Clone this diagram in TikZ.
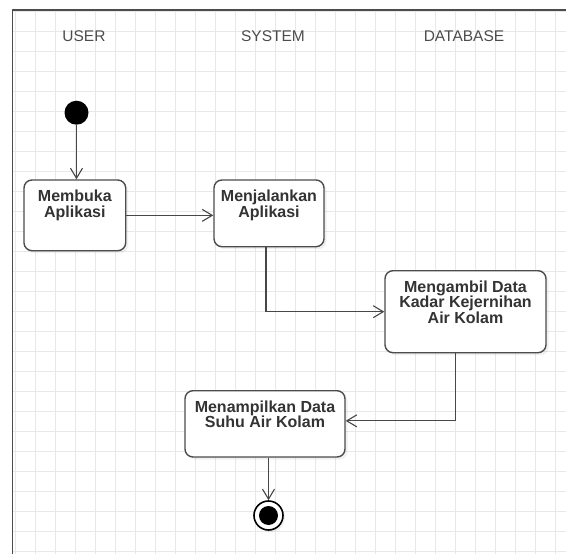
\documentclass[tikz,border=0pt]{standalone}
\usepackage{fontspec}
\setmainfont{Liberation Sans}
\usetikzlibrary{arrows.meta,shadows}

\begin{document}
\begin{tikzpicture}[x=1pt,y=-1pt,
 lane/.style={font=\fontsize{15.5}{18}\selectfont,text=black!70},
 act/.style={draw=black!70,line width=1.4pt,rounded corners=8pt,fill=white,
  drop shadow={shadow xshift=2.5pt,shadow yshift=-2.5pt,opacity=0.12}},
 actlbl/.style={anchor=north,align=center,inner sep=0pt,yshift=-10.5pt,
  font=\fontsize{16}{15.6}\selectfont\bfseries,text=black!80},
 flow/.style={draw=black!72,line width=1.1pt,
  -{Straight Barb[length=10pt,width=12pt,line width=1.1pt]}},
 start/.style={circle,fill=black,minimum size=24pt,inner sep=0pt},
 stop/.style={circle,draw=black,line width=1.6pt,fill=white,minimum size=29pt,inner sep=0pt,
  drop shadow={shadow xshift=2pt,shadow yshift=-2pt,opacity=0.12},
  path picture={\fill[black] (path picture bounding box.center) circle (9.5pt);}}]
 \useasboundingbox (0,0) rectangle (566,554);
 % background grid and frame
 \foreach \x in {15,35,...,555} \draw[black!9,line width=0.7pt] (\x,10) -- (\x,554);
 \foreach \y in {11,31,...,551} \draw[black!9,line width=0.7pt] (12.5,\y) -- (566,\y);
 \draw[black!70,line width=1.8pt] (12.5,554) -- (12.5,10) -- (566,10);

 % lanes
 \node[lane] (l_user) at (84,36) {USER};
 \node[lane] (l_sys) at (273,36) {SYSTEM};
 \node[lane] (l_db) at (464,36) {DATABASE};

 % activities
 \node[start] (start) at (76.5,112.7) {};
 \node[act,minimum width=101.7pt,minimum height=70.7pt,
  label={[actlbl]north:Membuka\\Aplikasi}] (a_buka) at (74.85,215.35) {};
 \node[act,minimum width=110pt,minimum height=66.7pt,
  label={[actlbl]north:Menjalankan\\Aplikasi}] (a_jalan) at (269,213.35) {};
 \node[act,minimum width=161pt,minimum height=82pt,
  label={[actlbl]north:Mengambil Data\\Kadar Kejernihan\\Air Kolam}] (a_ambil) at (465.5,311.7) {};
 \node[act,minimum width=160pt,minimum height=66.3pt,
  label={[actlbl]north:Menampilkan Data\\Suhu Air Kolam}] (a_tampil) at (265,423.85) {};
 \node[stop] (stop) at (268.5,515.5) {};

 \draw[flow] (start) -- (start |- a_buka.north);
 \draw[flow] (a_buka) -- (a_buka -| a_jalan.west);
 \draw[flow] ([xshift=-3pt]a_jalan.south) |- (a_ambil.west);
 \draw[flow] ([xshift=-10pt]a_ambil.south) |- ([yshift=3pt]a_tampil.east);
 \draw[flow] (a_tampil.south -| stop) -- (stop);
\end{tikzpicture}
\end{document}
